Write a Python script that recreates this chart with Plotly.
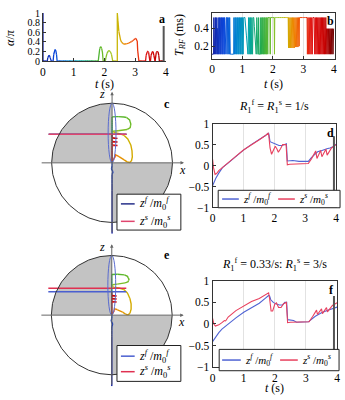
import numpy as np
import plotly.graph_objects as go

# ---------------- data ----------------
# (a) flip angle alpha/pi versus time t (s)
t_a = [0.0, 0.0, 0.14, 0.157, 0.173, 0.195, 0.217, 0.233, 0.25,
       0.33, 0.35, 0.37, 0.395, 0.42, 0.44, 0.46,
       1.80, 1.824, 1.848, 1.88, 1.912, 1.936, 1.96,
       2.03, 2.066, 2.102, 2.15, 2.198, 2.234, 2.27,
       2.42, 2.42, 2.44, 2.47, 2.51, 2.56, 2.63, 2.72, 2.82, 2.92, 2.98, 3.03, 3.07, 3.10,
       3.34, 3.36, 3.38, 3.41, 3.44, 3.46, 3.48,
       3.50, 3.52, 3.54, 3.565, 3.59, 3.61, 3.63,
       3.65, 3.67, 3.69, 3.72, 3.75, 3.77, 3.79, 3.93]
alpha_a = [1.0, 0.0, 0.0, 0.07, 0.105, 0.12, 0.105, 0.07, 0.0,
           0.0, 0.14, 0.21, 0.24, 0.21, 0.14, 0.0,
           0.0, 0.18, 0.26, 0.30, 0.26, 0.18, 0.0,
           0.0, 0.13, 0.19, 0.22, 0.19, 0.13, 0.0,
           0.0, 1.0, 0.85, 0.62, 0.46, 0.39, 0.35, 0.36, 0.38, 0.42, 0.46, 0.47, 0.41, 0.0,
           0.0, 0.12, 0.18, 0.20, 0.18, 0.12, 0.0,
           0.0, 0.12, 0.18, 0.20, 0.18, 0.12, 0.0,
           0.0, 0.12, 0.18, 0.20, 0.18, 0.12, 0.0, 0.0]

# (b) T_RF (ms) versus time t (s)
t_b = [0.00, 0.05, 0.06, 0.08, 0.09, 0.11, 0.12, 0.14, 0.16, 0.17,
       0.19, 0.20, 0.22, 0.24, 0.26, 0.27, 0.29, 0.31, 0.33, 0.34,
       0.36, 0.38, 0.40, 0.41, 0.43, 0.45, 0.48, 0.49, 0.51, 0.53,
       0.55, 0.57, 0.58, 0.60, 0.71, 0.72, 0.74, 0.76, 0.78, 0.79,
       0.81, 0.83, 0.85, 0.86, 0.88, 0.90, 0.92, 0.93, 0.95, 0.97,
       0.99, 1.00, 1.02, 1.04, 1.08, 1.18, 1.20, 1.22, 1.24, 1.26,
       1.27, 1.29, 1.31, 1.33, 1.35, 1.37, 1.45, 1.47, 1.49, 1.52,
       1.53, 1.55, 1.59, 1.60, 1.62, 1.64, 1.65, 1.67, 1.69, 1.71,
       1.72, 1.74, 1.76, 1.78, 1.79, 1.81, 1.83, 1.84, 1.90, 1.91,
       1.92, 2.04, 2.05, 2.06, 2.50, 2.51, 2.52, 2.54, 2.56, 2.58,
       2.60, 2.62, 2.64, 2.66, 2.68, 2.70, 2.72, 2.74, 2.76, 2.78,
       2.80, 2.82, 2.84, 2.86, 2.87, 3.12, 3.13, 3.15, 3.17, 3.19,
       3.21, 3.23, 3.25, 3.27, 3.29, 3.31, 3.35, 3.37, 3.39, 3.41,
       3.43, 3.45, 3.47, 3.49, 3.51, 3.53, 3.55, 3.57, 3.59, 3.61,
       3.63, 3.65, 3.67, 3.69, 3.71, 3.73, 3.75, 3.77, 3.79, 3.81,
       3.83, 3.85, 3.87, 3.89, 3.91, 3.93, 3.95, 3.97, 3.99]
T_b = [0.11, 0.11, 0.52, 0.11, 0.52, 0.52, 0.11, 0.52, 0.11, 0.40,
       0.11, 0.52, 0.11, 0.52, 0.11, 0.52, 0.11, 0.52, 0.11, 0.52,
       0.11, 0.52, 0.11, 0.52, 0.11, 0.52, 0.52, 0.11, 0.52, 0.11,
       0.52, 0.11, 0.52, 0.11, 0.11, 0.52, 0.11, 0.52, 0.11, 0.52,
       0.11, 0.52, 0.11, 0.52, 0.11, 0.52, 0.11, 0.52, 0.11, 0.52,
       0.11, 0.52, 0.11, 0.52, 0.52, 0.11, 0.52, 0.11, 0.52, 0.11,
       0.52, 0.11, 0.52, 0.11, 0.52, 0.52, 0.11, 0.52, 0.11, 0.11,
       0.52, 0.11, 0.11, 0.52, 0.11, 0.52, 0.11, 0.52, 0.11, 0.52,
       0.11, 0.52, 0.11, 0.52, 0.11, 0.52, 0.11, 0.52, 0.52, 0.11,
       0.52, 0.52, 0.11, 0.52, 0.52, 0.18, 0.52, 0.18, 0.52, 0.18,
       0.52, 0.18, 0.52, 0.18, 0.52, 0.18, 0.52, 0.19, 0.52, 0.19,
       0.52, 0.19, 0.52, 0.20, 0.52, 0.52, 0.11, 0.52, 0.11, 0.52,
       0.11, 0.52, 0.11, 0.52, 0.11, 0.52, 0.52, 0.11, 0.52, 0.11,
       0.52, 0.11, 0.52, 0.11, 0.52, 0.11, 0.52, 0.11, 0.52, 0.11,
       0.52, 0.11, 0.52, 0.11, 0.52, 0.11, 0.52, 0.11, 0.52, 0.11,
       0.52, 0.11, 0.52, 0.11, 0.52, 0.11, 0.52, 0.11, 0.40]

# (c) trajectory in the x-z plane (R1f = R1s), with time stamps for colouring
x_c = [0, 0, 0, 0.015, -0.01, 0, 0, 0, 0,
       0.05, 0.15, 0.24, 0.29, 0.31, 0.30, 0.25, 0.15, 0.05, 0.01, 0.01,
       0.03, 0.12, 0.20, 0.26, 0.31, 0.33, 0.335, 0.32, 0.29, 0.25, 0.20, 0.14, 0.09, 0.05,
       0.06, 0.02, 0.0, 0.0, 0.0, 0.09, 0.0, 0.0, 0.09, 0.0, 0.0, 0.09, 0.0, 0.0]
z_c = [-1.19, -0.5, -0.2, -0.15, -0.1, -0.05, 0.3, 0.6, 0.77,
       0.775, 0.775, 0.76, 0.72, 0.65, 0.59, 0.56, 0.545, 0.53, 0.53, 0.52,
       0.51, 0.49, 0.46, 0.40, 0.30, 0.20, 0.10, 0.03, 0.005, 0.015, 0.05, 0.09, 0.12, 0.14,
       0.12, 0.05, 0.03, 0.15, 0.29, 0.29, 0.30, 0.35, 0.35, 0.36, 0.41, 0.41, 0.42, 0.48]
t_c = [0.0, 0.02, 0.2, 0.24, 0.28, 0.32, 1.0, 1.5, 1.8,
       1.82, 1.85, 1.88, 1.91, 1.94, 1.97, 2.0, 2.03, 2.06, 2.08, 2.3,
       2.42, 2.43, 2.44, 2.45, 2.47, 2.49, 2.51, 2.53, 2.55, 2.57, 2.6, 2.63, 2.66, 2.7,
       2.9, 3.0, 3.1, 3.2, 3.32, 3.34, 3.36, 3.48, 3.5, 3.52, 3.64, 3.66, 3.68, 3.93]
# (e) trajectory (R1f = 0.33/s, R1s = 3/s)
x_e = [0, 0, 0, 0.015, -0.01, 0, 0, 0, 0,
       0.05, 0.14, 0.21, 0.26, 0.285, 0.27, 0.22, 0.13, 0.05, 0.01, 0.01,
       0.03, 0.12, 0.20, 0.26, 0.30, 0.32, 0.32, 0.30, 0.27, 0.23, 0.18, 0.12, 0.07, 0.04,
       0.05, 0.02, 0.0, 0.0, 0.0, 0.08, 0.0, 0.0, 0.08, 0.0, 0.0, 0.08, 0.0, 0.0]
z_e = [-1.19, -0.45, -0.2, -0.15, -0.1, -0.05, 0.3, 0.55, 0.68,
       0.685, 0.685, 0.675, 0.65, 0.60, 0.56, 0.54, 0.525, 0.515, 0.51, 0.49,
       0.47, 0.455, 0.43, 0.37, 0.28, 0.19, 0.10, 0.03, 0.005, 0.015, 0.05, 0.08, 0.10, 0.11,
       0.09, 0.04, 0.02, 0.12, 0.22, 0.22, 0.23, 0.27, 0.27, 0.28, 0.32, 0.32, 0.33, 0.39]
t_e = list(t_c)

# current longitudinal values drawn as horizontal lines in (c) and (e)
hline_x = [-1.05, 0.24]
zf_now_c, zs_now_c = 0.48, 0.48
zf_now_e, zs_now_e = 0.39, 0.45

# (d) z/m0 versus t, R1f = R1s = 1/s
t_fd = [0.0, 0.05, 0.1, 0.2, 0.32, 0.5, 0.75, 1.0, 1.25, 1.5, 1.7, 1.8, 1.82, 1.86, 1.95,
        2.05, 2.15, 2.25, 2.35, 2.39, 2.42, 2.46, 2.6, 2.8, 3.0, 3.1, 3.2, 3.3, 3.4, 3.5,
        3.6, 3.7, 3.8, 3.9, 4.0]
zf_d = [-0.48, -0.38, -0.31, -0.18, -0.05, 0.06, 0.22, 0.37, 0.50, 0.61, 0.71, 0.77, 0.76, 0.57, 0.54,
        0.52, 0.48, 0.48, 0.52, 0.52, 0.11, 0.11, 0.12, 0.10, 0.09, 0.10, 0.19, 0.27, 0.33, 0.35,
        0.38, 0.40, 0.42, 0.45, 0.51]
t_sd = [0.0, 0.03, 0.08, 0.13, 0.2, 0.32, 0.5, 0.75, 1.0, 1.25, 1.5, 1.7, 1.8, 1.82, 1.86,
        1.91, 1.97, 2.03, 2.08, 2.13, 2.2, 2.27, 2.38, 2.42, 2.5, 2.8, 3.1, 3.2, 3.34, 3.38,
        3.5, 3.54, 3.67, 3.71, 3.85, 4.0]
zs_d = [0.15, -0.05, -0.21, -0.19, -0.12, -0.05, 0.06, 0.22, 0.37, 0.50, 0.61, 0.71, 0.77, 0.72, 0.42,
        0.27, 0.36, 0.46, 0.40, 0.32, 0.40, 0.50, 0.50, 0.02, 0.03, 0.04, 0.05, 0.16, 0.35, 0.17,
        0.36, 0.21, 0.39, 0.25, 0.42, 0.50]

# (f) z/m0 versus t, R1f = 0.33/s, R1s = 3/s
t_ff = [0.0, 0.1, 0.2, 0.3, 0.5, 0.75, 1.0, 1.25, 1.5, 1.7, 1.8, 1.83, 1.87, 1.95, 2.05,
        2.15, 2.25, 2.32, 2.38, 2.41, 2.46, 2.6, 2.7, 3.0, 3.08, 3.3, 3.5, 3.7, 3.9, 4.0]
zf_f = [-0.41, -0.3, -0.2, -0.12, 0.0, 0.14, 0.27, 0.38, 0.48, 0.6, 0.66, 0.65, 0.56, 0.5, 0.46,
        0.44, 0.44, 0.5, 0.5, 0.1, 0.09, 0.08, 0.04, 0.04, 0.05, 0.18, 0.26, 0.32, 0.37, 0.39]
t_sf = [0.0, 0.04, 0.09, 0.2, 0.3, 0.38, 0.42, 0.5, 0.75, 1.0, 1.25, 1.5, 1.7, 1.8, 1.83,
        1.88, 1.93, 2.0, 2.05, 2.12, 2.2, 2.28, 2.37, 2.41, 2.5, 3.0, 3.1, 3.22, 3.34, 3.37,
        3.5, 3.53, 3.66, 3.69, 3.85, 4.0]
zs_f = [0.13, 0.0, -0.05, -0.02, 0.03, 0.08, 0.07, 0.16, 0.31, 0.42, 0.52, 0.59, 0.67, 0.72, 0.6,
        0.3, 0.3, 0.46, 0.49, 0.38, 0.38, 0.47, 0.5, 0.03, 0.04, 0.04, 0.05, 0.18, 0.32, 0.22,
        0.35, 0.24, 0.38, 0.28, 0.43, 0.49]

# current-time cursor
t_now_a, a_now_top = 3.93, 0.73
t_now_d, d_now_top = 3.93, 0.70
t_now_f, f_now_top = 3.90, 0.65

t_ticks = [0, 1, 2, 3, 4]
a_ticks = [0, 0.2, 0.4, 0.6, 0.8, 1]
b_ticks = [0.2, 0.4]
z_ticks = [-1, -0.5, 0, 0.5, 1]

LBL_F = "<i>z</i><sup><i>f</i></sup> /<i>m</i><sub>0</sub><sup><i>f</i></sup>"
LBL_S = "<i>z</i><sup><i>s</i></sup> /<i>m</i><sub>0</sub><sup><i>s</i></sup>"

# ---------------- styling helpers ----------------
FONT = "Liberation Serif"
W, H = 345, 400
def PX(x): return x / W
def PY(y): return 1 - y / H

STOPS = [(0.0, (20, 30, 160)), (0.4, (10, 70, 220)), (0.8, (0, 130, 210)),
         (1.2, (0, 165, 170)), (1.6, (30, 170, 80)), (1.9, (100, 185, 40)),
         (2.2, (160, 200, 40)), (2.45, (205, 180, 0)), (2.7, (240, 130, 0)),
         (2.95, (240, 70, 10)), (3.3, (225, 20, 20)), (3.7, (200, 0, 0)), (4.0, (110, 0, 0))]

def tcolor(t):
    t = min(max(t, 0.0), 4.0)
    for (t0, c0), (t1, c1) in zip(STOPS[:-1], STOPS[1:]):
        if t <= t1:
            f = (t - t0) / (t1 - t0) if t1 > t0 else 0
            c = [round(a + f * (b - a)) for a, b in zip(c0, c1)]
            return "rgb(%d,%d,%d)" % tuple(c)
    return "rgb(110,0,0)"

fig = go.Figure()

def add_colored(xs, ys, ts, xa, ya, width, dt=0.025, binw=0.04):
    X, Y, T = [xs[0]], [ys[0]], [ts[0]]
    for i in range(len(xs) - 1):
        n = max(1, int(np.ceil(abs(ts[i + 1] - ts[i]) / dt)))
        for k in range(1, n + 1):
            f = k / n
            X.append(xs[i] + f * (xs[i + 1] - xs[i]))
            Y.append(ys[i] + f * (ys[i + 1] - ys[i]))
            T.append(ts[i] + f * (ts[i + 1] - ts[i]))
    groups = []
    key = None
    for i in range(len(X) - 1):
        k = int(((T[i] + T[i + 1]) / 2) / binw)
        if k != key:
            groups.append([k, [X[i]], [Y[i]]])
            key = k
        groups[-1][1].append(X[i + 1])
        groups[-1][2].append(Y[i + 1])
    for k, gx, gy in groups:
        fig.add_trace(go.Scatter(x=gx, y=gy, mode="lines",
                                 line=dict(color=tcolor((k + 0.5) * binw), width=width),
                                 showlegend=False, hoverinfo="skip", xaxis=xa, yaxis=ya))

# ---------------- panel a ----------------
add_colored(t_a, alpha_a, t_a, "x", "y", 1.3)
fig.add_trace(go.Scatter(x=[t_now_a, t_now_a], y=[0, a_now_top], mode="lines",
                         line=dict(color="#555", width=2), showlegend=False, xaxis="x", yaxis="y"))

# ---------------- panel b ----------------
add_colored(t_b, T_b, t_b, "x2", "y2", 1.0)

# ---------------- panels c and e (Bloch projection) ----------------
th = np.linspace(0, np.pi / 2, 40)
def sphere(xa, ya, traj_x, traj_z, traj_t, zf_now, zs_now, fcol, scol):
    qx = np.concatenate([[0], -np.sin(th), [0]])
    qy = np.concatenate([[0], np.cos(th), [0]])
    for sgn in (1, -1):
        fig.add_trace(go.Scatter(x=sgn * qx, y=sgn * qy, fill="toself", fillcolor="#c3c3c3", mode="lines",
                                 line=dict(width=0), showlegend=False, hoverinfo="skip", xaxis=xa, yaxis=ya))
    add_colored(traj_x, traj_z, traj_t, xa, ya, 1.4)
    fig.add_trace(go.Scatter(x=hline_x, y=[zf_now, zf_now], mode="lines", name=LBL_F,
                             line=dict(color=fcol, width=1.5), showlegend=False, xaxis=xa, yaxis=ya))
    fig.add_trace(go.Scatter(x=hline_x, y=[zs_now, zs_now], mode="lines", name=LBL_S,
                             line=dict(color=scol, width=1.5), showlegend=False, xaxis=xa, yaxis=ya))

sphere("x3", "y3", x_c, z_c, t_c, zf_now_c, zs_now_c, "#27308a", "#e0456e")
sphere("x5", "y5", x_e, z_e, t_e, zf_now_e, zs_now_e, "#4a5fd0", "#e03050")

# ---------------- panels d and f ----------------
BLUE, RED = "#5064d4", "#e8405e"
for xa, ya, tf, zf, ts, zs, tn, top in [
        ("x4", "y4", t_fd, zf_d, t_sd, zs_d, t_now_d, d_now_top),
        ("x6", "y6", t_ff, zf_f, t_sf, zs_f, t_now_f, f_now_top)]:
    fig.add_trace(go.Scatter(x=tf, y=zf, mode="lines", line=dict(color=BLUE, width=1.1),
                             name=LBL_F, showlegend=False, xaxis=xa, yaxis=ya))
    fig.add_trace(go.Scatter(x=ts, y=zs, mode="lines", line=dict(color=RED, width=1.1),
                             name=LBL_S, showlegend=False, xaxis=xa, yaxis=ya))
    fig.add_trace(go.Scatter(x=[tn, tn], y=[-1, top], mode="lines", line=dict(color="#555", width=2),
                             showlegend=False, xaxis=xa, yaxis=ya))

# ---------------- layout ----------------
tickfont = dict(family=FONT, size=11.5, color="black")
base = dict(showline=True, linecolor="#333", linewidth=1, ticks="inside", ticklen=3,
            tickcolor="#333", tickfont=tickfont, zeroline=False, showgrid=False, fixedrange=True)
gridx = dict(showgrid=True, gridcolor="#e2e2e2", gridwidth=1)
R = 1.19

layout = dict(
    width=W, height=H, margin=dict(l=0, r=0, t=0, b=0), showlegend=False,
    paper_bgcolor="white", plot_bgcolor="rgba(0,0,0,0)",
    font=dict(family=FONT, size=12, color="black"),
    xaxis=dict(base, domain=[PX(40.7), PX(165.7)], range=[0, 4], tickvals=t_ticks, anchor="y"),
    yaxis=dict(base, domain=[PY(56.7), PY(7.3)], range=[0, 1], tickvals=a_ticks, anchor="x",
               tickfont=dict(family=FONT, size=10, color="black")),
    xaxis2=dict(base, **gridx, domain=[PX(212.7), PX(337.7)], range=[0, 4.03], tickvals=t_ticks,
                mirror=True, anchor="y2"),
    yaxis2=dict(base, domain=[PY(54.3), PY(7.3)], range=[0.06, 0.57], tickvals=b_ticks,
                mirror=True, anchor="x2"),
    xaxis3=dict(visible=False, domain=[PX(111 - R * 61.5), PX(111 + R * 61.5)], range=[-R, R], anchor="y3"),
    yaxis3=dict(visible=False, domain=[PY(161.7 + R * 61.5), PY(161.7 - R * 61.5)], range=[-R, R], anchor="x3"),
    xaxis4=dict(base, **gridx, domain=[PX(213.3), PX(339)], range=[0, 4], tickvals=t_ticks,
                mirror=True, anchor="y4"),
    yaxis4=dict(base, domain=[PY(207.7), PY(121.3)], range=[-1, 1], tickvals=z_ticks,
                tickformat="~g", mirror=True, anchor="x4"),
    xaxis5=dict(visible=False, domain=[PX(110.7 - R * 61.5), PX(110.7 + R * 61.5)], range=[-R, R], anchor="y5"),
    yaxis5=dict(visible=False, domain=[PY(318.7 + R * 61.5), PY(318.7 - R * 61.5)], range=[-R, R], anchor="x5"),
    xaxis6=dict(base, **gridx, domain=[PX(213.3), PX(340)], range=[0, 4], tickvals=t_ticks,
                mirror=True, anchor="y6"),
    yaxis6=dict(base, domain=[PY(372.3), PY(283.3)], range=[-1, 1], tickvals=z_ticks,
                tickformat="~g", mirror=True, anchor="x6"),
)
fig.update_layout(**layout)

# sphere decorations
for xa, ya in [("x3", "y3"), ("x5", "y5")]:
    fig.add_shape(type="circle", xref=xa, yref=ya, x0=-1, x1=1, y0=-1, y1=1,
                  line=dict(color="#333", width=1), layer="above")
    fig.add_shape(type="circle", xref=xa, yref=ya, x0=-0.065, x1=0.065, y0=0, y1=1,
                  line=dict(color="#5a6cd0", width=1), layer="above")
    fig.add_annotation(xref=xa, yref=ya, axref=xa, ayref=ya, x=R, y=0, ax=-R, ay=0, text="",
                       showarrow=True, arrowhead=2, arrowsize=0.7, arrowwidth=1, arrowcolor="#666")
    fig.add_annotation(xref=xa, yref=ya, axref=xa, ayref=ya, x=0, y=R, ax=0, ay=-R, text="",
                       showarrow=True, arrowhead=2, arrowsize=0.7, arrowwidth=1, arrowcolor="#666")
    fig.add_annotation(xref=xa, yref=ya, x=-0.16, y=1.15, text="<i>z</i>", showarrow=False,
                       font=dict(family=FONT, size=12))
    fig.add_annotation(xref=xa, yref=ya, x=1.16, y=-0.12, text="<i>x</i>", showarrow=False,
                       font=dict(family=FONT, size=12))

def note(x, y, text, size=12, angle=0, bold=False, xanchor="center", bg=None):
    fig.add_annotation(xref="paper", yref="paper", x=PX(x), y=PY(y),
                       text=("<b>%s</b>" % text) if bold else text, showarrow=False, textangle=angle,
                       font=dict(family=FONT, size=size, color="black"), bgcolor=bg, borderpad=0,
                       xanchor=xanchor, yanchor="middle")

# manual legends: box, line samples and labels
def legend_box(x0, y0, x1, y1):
    fig.add_shape(type="rect", xref="paper", yref="paper", x0=PX(x0), x1=PX(x1), y0=PY(y1), y1=PY(y0),
                  fillcolor="white", line=dict(color="#222", width=1), layer="above")
def legend_item(x0, x1, y, color, text, size=12):
    fig.add_shape(type="line", xref="paper", yref="paper", x0=PX(x0), x1=PX(x1), y0=PY(y), y1=PY(y),
                  line=dict(color=color, width=1.5), layer="above")
    note(x1 + 3, y, text, size=size, xanchor="left")

legend_box(116, 194, 181, 231)
legend_item(120, 134, 204, "#27308a", LBL_F)
legend_item(120, 134, 222, "#e0456e", LBL_S)
legend_box(116, 350, 181, 387)
legend_item(120, 134, 361, "#4a5fd0", LBL_F)
legend_item(120, 134, 377, "#e03050", LBL_S)
legend_box(219, 190, 343, 208)
legend_item(223, 240, 199, BLUE, LBL_F, 11)
legend_item(280, 297, 199, RED, LBL_S, 11)
legend_box(220, 354, 342, 376)
legend_item(223, 242, 365, BLUE, LBL_F, 11)
legend_item(282, 300, 365, RED, LBL_S, 11)

note(103, 80, "<i>t</i> (s)")
note(275, 80, "<i>t</i> (s)")
note(276, 394, "<i>t</i> (s)")
note(7, 32, "<i>α</i>/<i>π</i>", angle=-90)
note(180, 30, "<i>T<sub>RF</sub></i> (ms)", angle=-90)
note(276, 104, "<i>R</i><sub>1</sub><sup>f</sup> = <i>R</i><sub>1</sub><sup>s</sup> = 1/s")
note(276, 267, "<i>R</i><sub>1</sub><sup>f</sup> = 0.33/s: <i>R</i><sub>1</sub><sup>s</sup> = 3/s")
for lx, ly, lt, bg in [(162, 13, "a", None), (333, 15, "b", "white"), (167, 101, "c", None),
                       (333, 131, "d", None), (167, 257, "e", None), (334, 293, "f", None)]:
    note(lx, ly, lt, size=12, bold=True, bg=bg)

fig.write_html("out.html", config={"displayModeBar": False, "staticPlot": True},
               post_script="document.body.style.margin='0';document.body.style.overflow='hidden';")
